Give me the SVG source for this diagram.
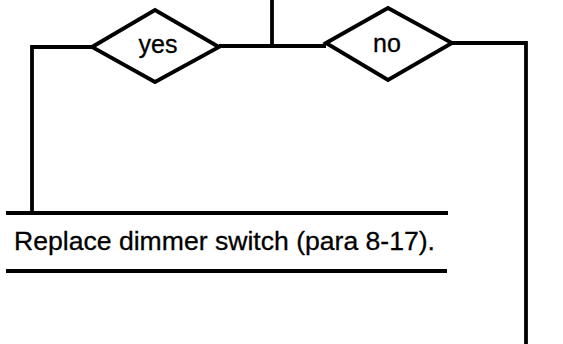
<svg xmlns="http://www.w3.org/2000/svg" width="563" height="344" viewBox="0 0 563 344">
<style>
.s{fill:none;stroke:#000;stroke-width:3.8;stroke-linejoin:miter}
.d{fill:#fff;stroke:#000;stroke-width:3.8}
.t{font-family:"Liberation Sans",Arial,sans-serif;fill:#000;stroke:#000;stroke-width:0.3}
</style>
<rect width="563" height="344" fill="#fff"/>
<g id="connectors">
<path class="s" d="M272 0V46"/>
<path class="s" d="M219 46H326"/>
<path class="s" d="M92 47H32V213"/>
<path class="s" d="M452 43H526V344"/>
</g>
<g id="yes">
<polygon class="d" points="92,47 155,10 219,47 155,82"/>
<text class="t" x="158" y="53" font-size="25" text-anchor="middle">yes</text>
</g>
<g id="no">
<polygon class="d" points="326,43 388,8 452,43 388,80"/>
<text class="t" x="387" y="52" font-size="25" text-anchor="middle">no</text>
</g>
<g id="replace">
<line class="s" x1="6" y1="213" x2="448" y2="213" stroke-width="4.8"/>
<text class="t" x="14" y="250" font-size="26.5" textLength="421" lengthAdjust="spacingAndGlyphs">Replace dimmer switch (para 8-17).</text>
<line class="s" x1="6" y1="271" x2="447" y2="271"/>
</g>
</svg>
